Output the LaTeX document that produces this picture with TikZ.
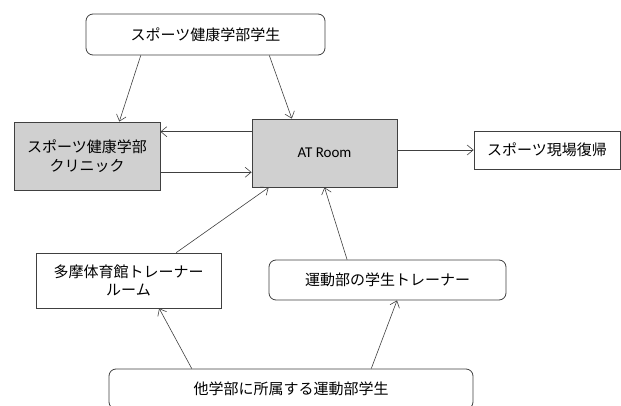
\documentclass[tikz,border=0pt]{standalone}
\usepackage{fontspec}
\newfontfamily\jp{Noto Sans CJK JP}
\newfontfamily\lat{Carlito}
\usetikzlibrary{arrows.meta,calc}
\definecolor{lc}{HTML}{404040}
\definecolor{gfill}{HTML}{D0D0D0}
\begin{document}
\begin{tikzpicture}[x=1pt,y=-1pt,
  box/.style={draw=lc,line width=0.8pt,fill=white,align=center,inner sep=0pt,font=\jp\fontsize{15}{18.5}\selectfont},
  rbox/.style={box,rounded corners=7pt},
  gbox/.style={box,fill=gfill},
  conn/.style={draw=lc,line width=0.6pt,-{Straight Barb[length=6pt,width=10pt]}}]
\useasboundingbox (0,0) rectangle (621,406);
\begin{scope}
\clip (0,0) rectangle (621,406);
\node[rbox,minimum width=239pt,minimum height=41pt] (top) at (205.5,34.5) {スポーツ健康学部学生};
\node[gbox,minimum width=146pt,minimum height=68pt] (clinic) at (87,156) {スポーツ健康学部\\クリニック};
\node[gbox,minimum width=145pt,minimum height=68pt,font=\lat\fontsize{15}{17}\selectfont] (at) at (324.5,153) {AT Room};
\node[box,minimum width=146pt,minimum height=38pt] (ret) at (547,150) {スポーツ現場復帰};
\node[box,minimum width=185pt,minimum height=55pt] (tama) at (128.5,280.5) {多摩体育館トレーナー\\ルーム};
\node[rbox,minimum width=237pt,minimum height=40pt] (tr) at (387.5,280) {運動部の学生トレーナー};
\node[rbox,minimum width=364pt,minimum height=40pt] (bot) at (291,389) {他学部に所属する運動部学生};
\end{scope}
\draw[conn] ($(top.south west)!0.23!(top.south east)$) -- ($(clinic.north west)!0.72!(clinic.north east)$);
\draw[conn] ($(top.south west)!0.766!(top.south east)$) -- ($(at.north west)!0.276!(at.north east)$);
\coordinate (a1) at ($(at.north west)!0.19!(at.south west)$);
\draw[conn] (a1) -- (clinic.east |- a1);
\coordinate (a2) at ($(at.north west)!0.78!(at.south west)$);
\draw[conn] (clinic.east |- a2) -- (a2);
\draw[conn] (at.east |- ret.west) -- (ret.west);
\draw[conn] ($(tama.north west)!0.757!(tama.north east)$) -- ($(at.south west)!0.117!(at.south east)$);
\draw[conn] ($(tr.north west)!0.33!(tr.north east)$) -- (at.south);
\draw[conn] ($(bot.north west)!0.228!(bot.north east)$) -- ($(tama.south west)!0.665!(tama.south east)$);
\draw[conn] ($(bot.north west)!0.72!(bot.north east)$) -- ($(tr.south west)!0.54!(tr.south east)$);
\end{tikzpicture}
\end{document}
